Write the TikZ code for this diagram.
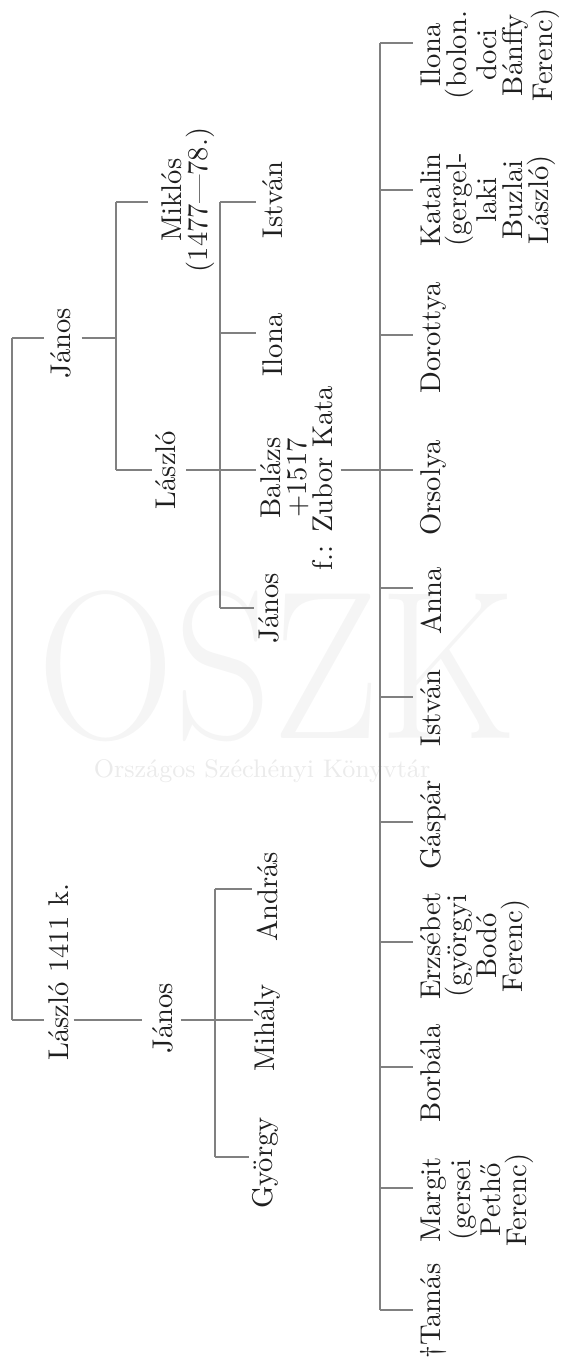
\documentclass[tikz,border=0pt]{standalone}
\usetikzlibrary{calc}
\begin{document}
\begin{tikzpicture}[x=0.35pt,y=-0.35pt,
  nm/.style={rotate=90,anchor=north,inner sep=0pt,align=center,
    font=\fontsize{10}{9.1}\selectfont,text=black!88},
  ln/.style={draw=black!50,line width=0.4pt},
  wm/.style={inner sep=0pt,anchor=base}]
\useasboundingbox (0,0) rectangle (562,1363);
% watermark
\node[wm,text=black!4,font=\fontsize{74}{74}\selectfont,xscale=0.9] (wmA) at (277,738) {OSZK};
\node[wm,text=black!8,font=\fontsize{8.9}{10}\selectfont] (wmB) at (262,777) {Országos Széchényi Könyvtár};

% generation 1
\node[nm] (j1) at (50,343) {János};
\node[nm] (l0) at (48,972) {László 1411 k.};
% generation 2
\node[nm] (mik) at (161,200) {Miklós\\(1477—78.)};
\node[nm] (las) at (155,470) {László};
\node[nm] (j2) at (152,1018) {János};
% generation 3
\node[nm] (ist3) at (262,200) {István};
\node[nm] (ilo3) at (262,345) {Ilona};
\node[nm] (bal) at (260,478) {Balázs\\+1517\\f.: Zubor Kata};
\node[nm] (jan3) at (258,608) {János};
\node[nm] (and) at (256,897) {András};
\node[nm] (mih) at (254,1028) {Mihály};
\node[nm] (gyo) at (252,1163) {György};
% generation 4
\node[nm] (c1) at (420,55) {Ilona\\(bolon.\\doci\\Bánffy\\Ferenc)};
\node[nm] (c2) at (420,200) {Katalin\\(gergel-\\laki\\Buzlai\\László)};
\node[nm] (c3) at (420,338) {Dorottya};
\node[nm] (c4) at (420,488) {Orsolya};
\node[nm] (c5) at (420,601) {Anna};
\node[nm] (c6) at (420,708) {István};
\node[nm] (c7) at (420,825) {Gáspár};
\node[nm] (c8) at (420,946) {Erzsébet\\(györgyi\\Bodó\\Ferenc)};
\node[nm] (c9) at (420,1073) {Borbála};
\node[nm] (c10) at (420,1200) {Margit\\(gersei\\Pethő\\Ferenc)};
\node[nm] (c11) at (420,1311) {\textdagger Tamás};

% bar coordinates
\coordinate (L1a) at (12,338);
\coordinate (L1b) at (12,1020);
\coordinate (L2a) at (116,202);
\coordinate (L2m) at (116,338);
\coordinate (L2b) at (116,470);
\coordinate (L3a) at (220,202);
\coordinate (L3i) at (220,333);
\coordinate (L3m) at (220,470);
\coordinate (L3b) at (220,608);
\coordinate (L3c) at (215,889);
\coordinate (L3n) at (215,1020);
\coordinate (L3d) at (215,1157);
\coordinate (t1) at (380,43);
\coordinate (t2) at (380,190);
\coordinate (t3) at (380,335);
\coordinate (t4) at (380,470);
\coordinate (t5) at (380,588);
\coordinate (t6) at (380,697);
\coordinate (t7) at (380,822);
\coordinate (t8) at (380,942);
\coordinate (t9) at (380,1067);
\coordinate (t10) at (380,1188);
\coordinate (t11) at (380,1310);

% generation 1 connectors
\draw[ln] (L1a) -- (L1b);
\draw[ln,shorten >=2pt] (L1a) -- (L1a -| j1.north);
\draw[ln,shorten <=3.5pt] (j1.south |- L1a) -- (L2m);
\draw[ln,shorten >=1.5pt] (L1b) -- (L1b -| l0.north);
\draw[ln,shorten <=1.5pt,shorten >=3.5pt] (l0.south |- L1b) -- (L1b -| j2.north);
\draw[ln,shorten <=2.5pt] (j2.south |- L3n) -- (L3n);
% generation 2 connectors
\draw[ln] (L2a) -- (L2b);
\draw[ln,shorten >=4.5pt] (L2a) -- (L2a -| mik.north);
\draw[ln,shorten >=1pt] (L2b) -- (L2b -| las.north);
\draw[ln,shorten <=3.5pt] (las.south |- L3m) -- (L3m);
% generation 3 connectors (László)
\draw[ln] (L3a) -- (L3b);
\draw[ln,shorten >=2pt] (L3a) -- (L3a -| ist3.north);
\draw[ln,shorten >=2pt] (L3i) -- (L3i -| ilo3.north);
\draw[ln,shorten >=1.5pt] (L3m) -- (L3m -| bal.north);
\draw[ln,shorten >=1.5pt] (L3b) -- (L3b -| jan3.north);
% generation 3 connectors (János)
\draw[ln] (L3c) -- (L3d);
\draw[ln,shorten >=1.5pt] (L3c) -- (L3c -| and.north);
\draw[ln,shorten >=0.5pt] (L3n) -- (L3n -| mih.north);
\draw[ln,shorten >=1pt] (L3d) -- (L3d -| gyo.north);
% Balázs to his children
\draw[ln,shorten <=2.5pt] (bal.south |- t4) -- (t4);
\draw[ln] (t1) -- (t11);
\foreach \t/\c in {t1/c1,t2/c2,t3/c3,t4/c4,t5/c5,t6/c6,t7/c7,t8/c8,t9/c9,t10/c10,t11/c11}
  \draw[ln,shorten >=2.5pt] (\t) -- (\t -| \c.north);
\end{tikzpicture}
\end{document}
